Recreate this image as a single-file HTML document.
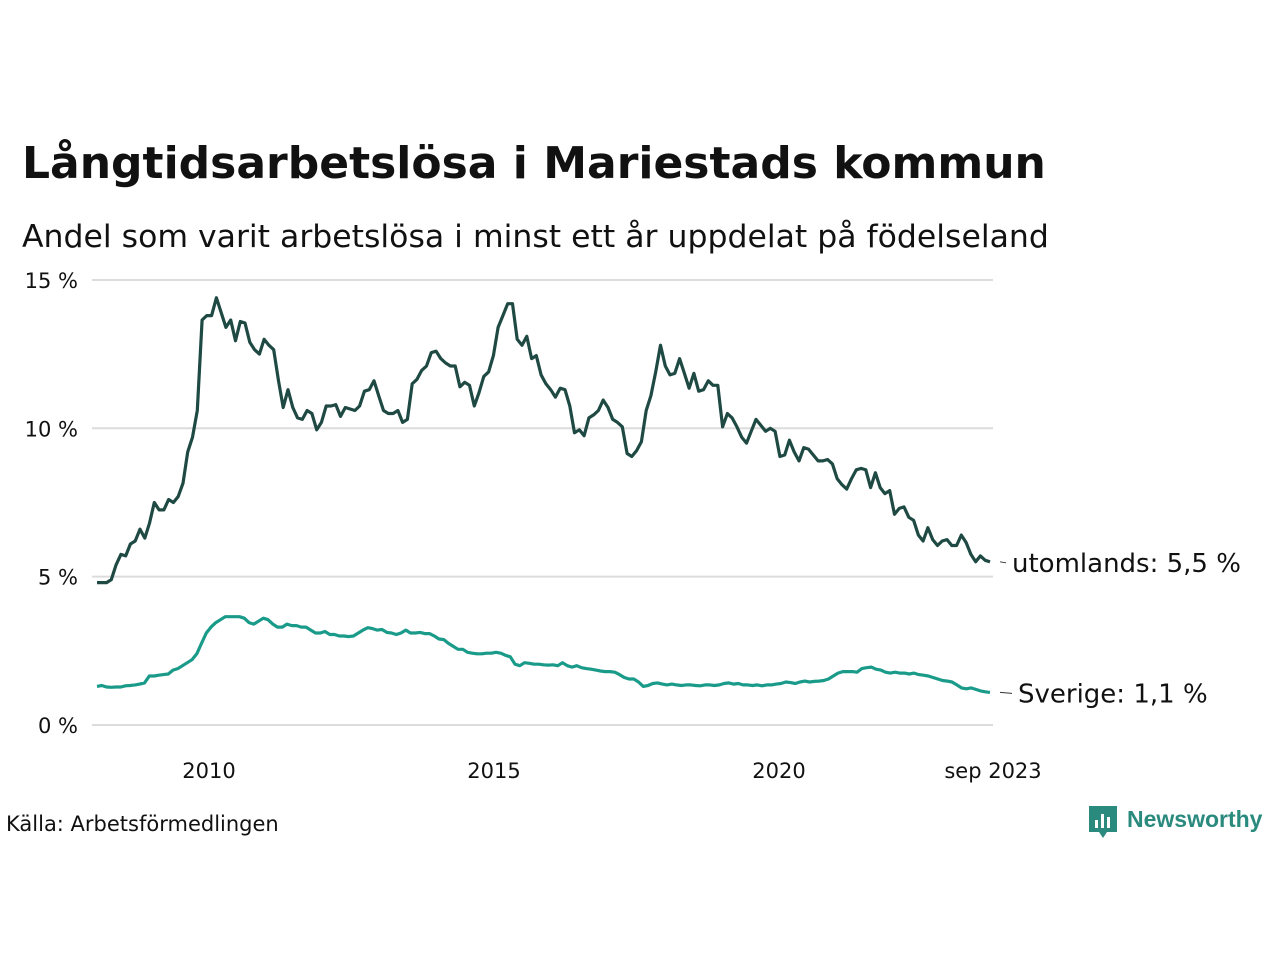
<!DOCTYPE html>
<html><head><meta charset="utf-8">
<style>
body{margin:0;background:#fff;width:1280px;height:960px;overflow:hidden;font-family:"Liberation Sans",sans-serif;}
</style></head>
<body>
<svg width="1280" height="960" viewBox="0 0 1280 960" id="chart" style="font-family:'DejaVu Sans','Liberation Sans',sans-serif">
<text x="22" y="178" font-size="44" font-weight="bold" fill="#111">Långtidsarbetslösa i Mariestads kommun</text>
<text x="22" y="247" font-size="31.5" fill="#111">Andel som varit arbetslösa i minst ett år uppdelat på födelseland</text>
<g id="grid"></g><g id="lines"></g><g id="labels"></g>
<text x="6" y="831" font-size="21" fill="#111">Källa: Arbetsförmedlingen</text>
<g>
<path d="M1089 806h28v26h-10l-4 6-4-6h-10z" fill="#2a8a7e"/>
<rect x="1095" y="820" width="3" height="8" fill="#fff"/><rect x="1101" y="814" width="3" height="14" fill="#fff"/><rect x="1107" y="817" width="3" height="11" fill="#fff"/>
<text x="1127" y="827" font-size="23" font-weight="bold" fill="#2a8a7e" style="font-family:'Liberation Sans',sans-serif">Newsworthy</text>
</g>
</svg>
<script>
const yTicks=[0,5,10,15];
const yTickLabels=["0 %","5 %","10 %","15 %"];
const xTickYears=[2010,2015,2020];
const xTickLabels=["2010","2015","2020","sep 2023"];
const startYear=2008, startMonth=0;
const foreign=[4.8,4.8,4.8,4.9,5.4,5.75,5.7,6.1,6.2,6.6,6.3,6.8,7.5,7.25,7.25,7.6,7.5,7.7,8.15,9.2,9.7,10.6,13.65,13.8,13.8,14.4,13.9,13.4,13.65,12.95,13.6,13.55,12.9,12.65,12.5,13.0,12.8,12.65,11.6,10.7,11.3,10.7,10.35,10.3,10.6,10.5,9.95,10.2,10.75,10.75,10.8,10.4,10.7,10.65,10.6,10.75,11.25,11.3,11.6,11.1,10.6,10.5,10.5,10.6,10.2,10.3,11.5,11.65,11.95,12.1,12.55,12.6,12.35,12.2,12.1,12.1,11.4,11.55,11.45,10.75,11.2,11.75,11.9,12.45,13.4,13.8,14.2,14.2,13.0,12.8,13.1,12.35,12.45,11.8,11.5,11.3,11.05,11.35,11.3,10.75,9.85,9.95,9.75,10.35,10.45,10.6,10.95,10.7,10.3,10.2,10.05,9.15,9.05,9.25,9.55,10.6,11.1,11.9,12.8,12.1,11.8,11.85,12.35,11.85,11.35,11.85,11.25,11.3,11.6,11.45,11.45,10.05,10.5,10.35,10.05,9.7,9.5,9.9,10.3,10.1,9.9,10.0,9.9,9.05,9.1,9.6,9.2,8.9,9.35,9.3,9.1,8.9,8.9,8.95,8.8,8.3,8.1,7.95,8.3,8.6,8.65,8.6,8.0,8.5,8.0,7.8,7.9,7.1,7.3,7.35,7.0,6.9,6.4,6.2,6.65,6.25,6.05,6.2,6.25,6.05,6.05,6.4,6.15,5.75,5.5,5.7,5.55,5.5];
const sweden=[1.3,1.33,1.28,1.27,1.28,1.28,1.32,1.33,1.35,1.38,1.42,1.65,
1.65,1.68,1.7,1.72,1.85,1.9,2.0,2.1,2.2,2.4,2.75,3.1,
3.3,3.45,3.55,3.65,3.65,3.65,3.65,3.6,3.45,3.4,3.5,3.6,
3.55,3.4,3.3,3.3,3.4,3.35,3.35,3.3,3.3,3.2,3.1,3.1,
3.15,3.05,3.05,3.0,3.0,2.98,3.0,3.1,3.2,3.28,3.25,3.2,
3.22,3.12,3.1,3.05,3.1,3.2,3.1,3.1,3.12,3.08,3.08,3.0,
2.9,2.88,2.75,2.65,2.55,2.55,2.45,2.42,2.4,2.4,2.42,2.42,
2.45,2.42,2.35,2.3,2.05,2.0,2.1,2.08,2.05,2.05,2.03,2.02,
2.03,2.0,2.1,2.0,1.95,2.0,1.93,1.9,1.88,1.85,1.82,1.8,
1.8,1.78,1.7,1.6,1.55,1.55,1.45,1.3,1.33,1.4,1.42,1.38,
1.35,1.38,1.35,1.33,1.35,1.35,1.33,1.32,1.35,1.35,1.33,1.35,
1.4,1.42,1.38,1.4,1.35,1.35,1.33,1.35,1.32,1.35,1.35,1.38,
1.4,1.45,1.43,1.4,1.45,1.48,1.45,1.47,1.48,1.5,1.55,1.65,
1.75,1.8,1.8,1.8,1.78,1.9,1.93,1.95,1.88,1.85,1.78,1.75,
1.78,1.75,1.75,1.72,1.75,1.7,1.68,1.65,1.6,1.55,1.5,1.48,
1.45,1.35,1.25,1.22,1.25,1.2,1.15,1.12,1.1];
const seriesNames=["utomlands","Sverige"];

const NS="http://www.w3.org/2000/svg";
const X0=97,X1=990,Y0=725,PXP=29.67;
const nMonths=Math.max(foreign.length,sweden.length);
function xOfIndex(i,n){return X0+(X1-X0)*i/(n-1);}
function xOfYear(y){return X0+(X1-X0)*((y-startYear)*12-startMonth)/(nMonths-1);}
function yOf(v){return Y0-v*PXP;}
function mk(t,a,p){const e=document.createElementNS(NS,t);for(const k in a)e.setAttribute(k,a[k]);p.appendChild(e);return e;}
const grid=document.getElementById('grid'),lines=document.getElementById('lines'),labels=document.getElementById('labels');
yTicks.forEach((v,i)=>{
  const l=mk('line',{x1:92,x2:993,y1:yOf(v),y2:yOf(v),stroke:'#dcdcdc','stroke-width':2},grid);
  
  
  const t=mk('text',{x:78,y:yOf(v)+8,'font-size':21,'text-anchor':'end',fill:'#111'},grid);
  t.textContent=yTickLabels[i];
  
  
});
xTickYears.forEach((y,i)=>{
  const t=mk('text',{x:xOfYear(y)-2,y:778,'font-size':21,'text-anchor':'middle',fill:'#111'},grid);
  t.textContent=xTickLabels[i];
  
  
});
const tl=mk('text',{x:X1+3,y:778,'font-size':21,'text-anchor':'middle',fill:'#111'},grid);
tl.textContent=xTickLabels[3];


function drawSeries(vals,color,name){
  const d=vals.map((v,i)=>(i?'L':'M')+xOfIndex(i,vals.length).toFixed(1)+' '+yOf(v).toFixed(1)).join(' ');
  const p=mk('path',{d:d,fill:'none',stroke:color,'stroke-width':3.2,'stroke-linejoin':'round'},lines);
  
  
}
drawSeries(sweden,'#1a9b8a','sverige');
drawSeries(foreign,'#1f4a44','utomlands');
function endLabel(vals,name,txt,xoff){
  const y=yOf(vals[vals.length-1]);
  mk('line',{x1:X1+10,x2:X1+xoff-6,y1:y,y2:y+1,stroke:'#333','stroke-width':1},labels);
  const t=mk('text',{x:X1+xoff,y:y+10,'font-size':26,fill:'#111'},labels);
  t.textContent=txt;
  
  
}
endLabel(foreign,'utomlands',seriesNames[0]+': '+String(foreign[foreign.length-1]).replace('.',',')+' %',22);
endLabel(sweden,'sverige',seriesNames[1]+': '+String(sweden[sweden.length-1]).replace('.',',')+' %',28);
</script>
</body></html>
